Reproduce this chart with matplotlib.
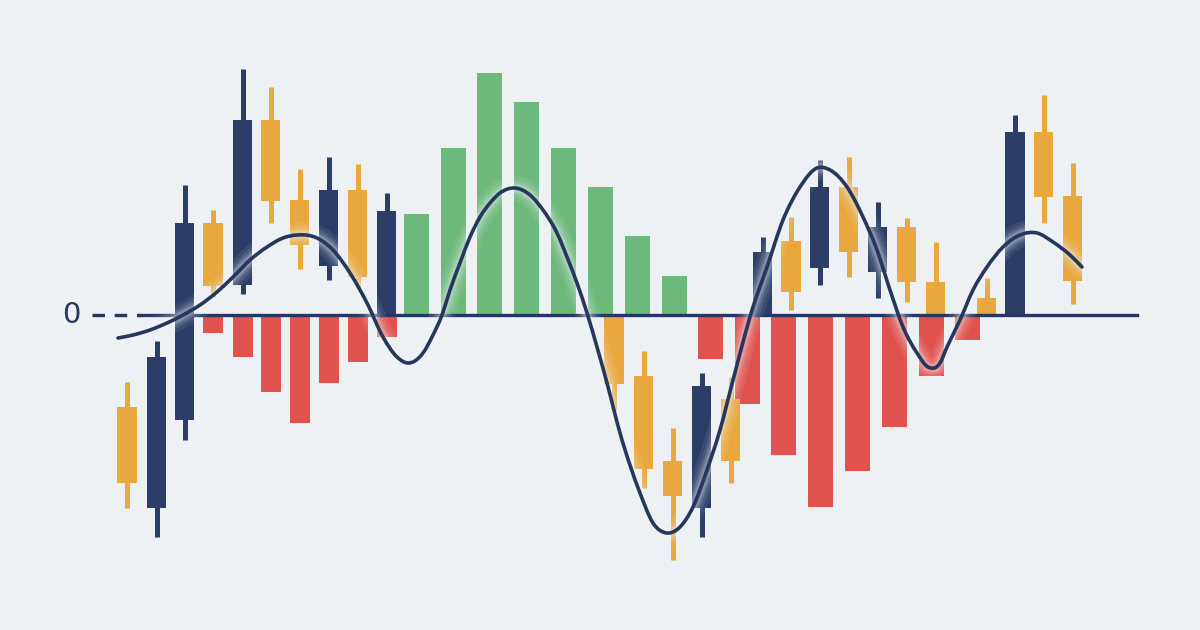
import numpy as np
import matplotlib
matplotlib.use('Agg')
import matplotlib.pyplot as plt
from matplotlib.path import Path
from matplotlib.patches import PathPatch

# candles: x position, body top, body bottom, high, low, colour key
candle_x = [127, 156.5, 184.5, 213, 242.5, 270.5, 299.5, 328.5, 357.5, 386.5,
            614, 643.5, 672.5, 701.5, 730.5,
            762.5, 791, 819.5, 848.5, 877.5, 906.5, 935.5, 986.5, 1015, 1043.5, 1072.5]
body_hi = [-92, -42, 92, 92, 195, 195, 115, 125, 125, 104,
           0, -61, -146, -71, -84,
           63, 74, 128, 128, 88, 88, 33, 17, 183, 183, 119]
body_lo = [-168, -193, -105, 29, 30, 114, 70, 49, 38, 0,
           -69, -154, -181, -193, -146,
           1, 23, 47, 63, 43, 33, 0, 1, 1, 118, 34]
high = [-67, -26, 130, 105, 246, 228, 146, 158, 151, 122,
        0, -36, -113, -58, -62,
        78, 98, 155, 158, 113, 97, 73, 37, 200, 220, 152]
low = [-193, -222, -125, 18, 21, 92, 46, 35, 28, 0,
       -95, -173, -245, -222, -168,
       1, 5, 30, 38, 17, 13, 0, 1, 1, 92, 11]
kind = ['o', 'n', 'n', 'o', 'n', 'o', 'o', 'n', 'o', 'n',
        'o', 'o', 'o', 'n', 'o',
        'n', 'o', 'n', 'o', 'n', 'o', 'o', 'o', 'n', 'o', 'o']

# small histogram under the first candles
hist1_x = [213, 242.5, 270.5, 299.5, 328.5, 357.5, 386.5]
hist1_v = [-18, -42, -77, -108, -68, -47, -22]

# main histogram
hist2_x = [416, 453, 489.5, 526, 563, 600, 637, 674,
           710, 747, 783, 820, 857, 894, 931, 967]
hist2_v = [101, 167, 242, 213, 167, 128, 79, 39,
           -44, -89, -140, -192, -156, -112, -61, -25]

# smooth signal line
line_x = [118, 133, 150, 167, 183, 200, 217, 233, 250, 267, 283, 297, 317, 333, 350,
          367, 383, 397, 408, 423, 433, 442, 450, 460, 470, 480, 490, 500, 515, 530,
          543, 557, 567, 577, 587, 597, 607, 620, 640, 653, 667, 680, 693, 707, 720,
          733, 753, 767, 783, 800, 817, 830, 847, 863, 877, 890, 903, 917, 928, 940,
          947, 960, 973, 987, 1003, 1020, 1037, 1053, 1070, 1082]
line_v = [-23, -20, -15, -8, 0, 10, 23, 38, 55, 68, 77, 80, 77, 65, 42,
          12, -22, -42, -48, -38, -20, 0, 25, 52, 78, 98, 112, 122, 127, 120,
          105, 82, 58, 32, 2, -32, -68, -118, -178, -208, -218, -212, -192, -155, -115,
          -65, 8, 48, 95, 128, 147, 145, 128, 98, 65, 25, -12, -38, -52, -48,
          -32, -5, 25, 48, 68, 80, 82, 73, 60, 48]

NAVY = '#2b3d66'
ORANGE = '#e9a73f'
RED = '#e0524d'
GREEN = '#6cb97b'
LINE = '#26375e'
BG = '#edf1f3'

fig = plt.figure(figsize=(12, 6.3), dpi=100)
fig.patch.set_facecolor(BG)
ax = fig.add_axes([0, 0, 1, 1])
ax.set_facecolor(BG)
ax.set_xlim(0, 1200)
ax.set_ylim(-315, 315)
ax.axis('off')

# histograms
ax.bar(hist1_x, hist1_v, width=20, color=RED, zorder=2)
ax.bar(hist2_x, hist2_v, width=25,
       color=[GREEN if v > 0 else RED for v in hist2_v], zorder=2)

# candles
colors = [NAVY if k == 'n' else ORANGE for k in kind]
ax.vlines(candle_x, low, high, colors=colors, linewidth=3.6, zorder=3)
ax.bar(candle_x, np.array(body_hi) - np.array(body_lo), bottom=body_lo,
       width=19.5, color=colors, zorder=3)

# zero line
plt.rcParams['lines.scale_dashes'] = False
ax.plot([92, 140], [0, 0], color=LINE, linewidth=2.4, dashes=(9, 7), zorder=4)
ax.plot([140, 1137], [0, 0], color=LINE, linewidth=2.4, zorder=4)
ax.text(71, 0, '0', ha='center', va='center', fontsize=21, color=LINE,
        family='DejaVu Sans', zorder=5)

# smooth curve: cubic Hermite segments through the read points
x = np.array(line_x, float)
y = np.array(line_v, float)
dx = np.diff(x)
sl = np.diff(y) / dx
m = np.empty_like(y)
m[0], m[-1] = sl[0], sl[-1]
m[1:-1] = (sl[1:] * dx[:-1] + sl[:-1] * dx[1:]) / (dx[:-1] + dx[1:])
verts = [(x[0], y[0])]
codes = [Path.MOVETO]
for i in range(len(x) - 1):
    h = dx[i] / 3
    verts += [(x[i] + h, y[i] + h * m[i]), (x[i + 1] - h, y[i + 1] - h * m[i + 1]),
              (x[i + 1], y[i + 1])]
    codes += [Path.CURVE4] * 3
path = Path(verts, codes)

# soft glow
for lw, a in [(18, 0.08), (13, 0.1), (9, 0.15), (6, 0.22)]:
    ax.add_patch(PathPatch(path, fill=False, edgecolor='#f2f7fc', alpha=a, linewidth=lw,
                           capstyle='round', joinstyle='round', zorder=6))
ax.add_patch(PathPatch(path, fill=False, edgecolor=LINE, linewidth=2.6,
                       capstyle='round', zorder=7))

fig.savefig('out.png', dpi=100, facecolor=BG)
